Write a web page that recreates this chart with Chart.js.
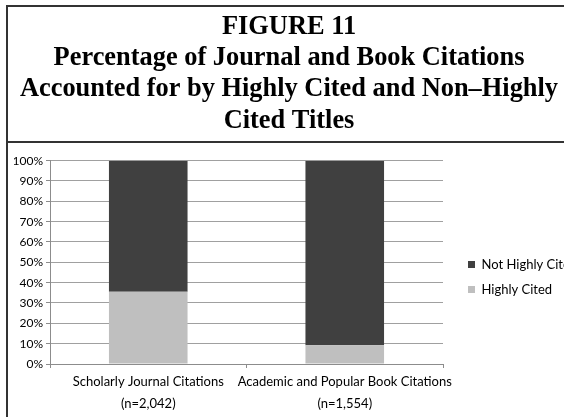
<!DOCTYPE html>
<html>
<head>
<meta charset="utf-8">
<script src="https://cdn.jsdelivr.net/npm/chart.js@4/dist/chart.umd.min.js"></script>
<style>
  html, body { margin: 0; padding: 0; background: #ffffff; }
  #wrap { position: relative; width: 564px; height: 417px; }
</style>
</head>
<body>
<div id="wrap"><canvas id="c" width="564" height="417"></canvas></div>
<script>
const titleLines = [
  'FIGURE 11',
  'Percentage of Journal and Book Citations',
  'Accounted for by Highly Cited and Non\u2013Highly',
  'Cited Titles'
];
const categories = [
  ['Scholarly Journal Citations', '(n=2,042)'],
  ['Academic and Popular Book Citations', '(n=1,554)']
];
const seriesNames = ['Highly Cited', 'Not Highly Cited'];
const highlyCited = [35.5, 9.2];
const notHighlyCited = [64.5, 90.8];
const yTicks = [0, 10, 20, 30, 40, 50, 60, 70, 80, 90, 100];

const axisFont = { family: 'Lato, "Open Sans", sans-serif', size: 13 };

const framePlugin = {
  id: 'frame',
  afterDraw(chart) {
    const ctx = chart.ctx;
    ctx.save();
    ctx.strokeStyle = '#333333';
    ctx.lineWidth = 2;
    ctx.beginPath();
    ctx.moveTo(7, 417); ctx.lineTo(7, 6); ctx.lineTo(564, 6);
    ctx.moveTo(7, 142); ctx.lineTo(564, 142);
    ctx.stroke();
    ctx.restore();
  }
};

new Chart(document.getElementById('c'), {
  type: 'bar',
  data: {
    labels: categories,
    datasets: [
      { label: seriesNames[0], data: highlyCited, backgroundColor: '#bfbfbf', barPercentage: 0.4, categoryPercentage: 1 },
      { label: seriesNames[1], data: notHighlyCited, backgroundColor: '#404040', barPercentage: 0.4, categoryPercentage: 1 }
    ]
  },
  plugins: [framePlugin],
  options: {
    responsive: false,
    animation: false,
    devicePixelRatio: 1,
    layout: { padding: { left: 14, right: 0, top: 0, bottom: 0 } },
    plugins: {
      title: {
        display: true,
        text: titleLines,
        color: '#000000',
        font: { family: '"Liberation Serif", "Times New Roman", serif', size: 26.4, weight: 'bold', lineHeight: 1.19 },
        padding: { top: 11, bottom: 24 }
      },
      legend: {
        display: true,
        position: 'right',
        fullSize: false,
        reverse: true,
        maxWidth: 108,
        title: { display: true, text: '', font: { size: 1 }, padding: { top: 28, bottom: 0 } },
        labels: {
          boxWidth: 7,
          boxHeight: 7,
          padding: 12,
          color: '#000000',
          font: axisFont
        }
      },
      tooltip: { enabled: false }
    },
    scales: {
      x: {
        stacked: true,
        grid: { display: true, drawOnChartArea: false, drawTicks: true, tickLength: 4, offset: true, color: '#8c8c8c' },
        border: { display: true, color: '#8c8c8c', width: 1 },
        ticks: { color: '#000000', font: { ...axisFont, lineHeight: 1.7 }, padding: 3, maxRotation: 0, autoSkip: false },
        afterFit: s => { s.height = 53; }
      },
      y: {
        stacked: true,
        min: 0,
        max: 100,
        afterBuildTicks: s => { s.ticks = yTicks.map(v => ({ value: v })); },
        grid: { color: '#a0a0a0', tickLength: 4, drawTicks: true, tickColor: '#8c8c8c' },
        border: { display: true, color: '#8c8c8c', width: 1 },
        ticks: { color: '#000000', font: { ...axisFont, size: 12 }, padding: 3, callback: v => v + '%' },
        afterFit: s => { s.width = 36; }
      },
      spacer: {
        type: 'linear',
        position: 'right',
        display: true,
        grid: { display: false },
        border: { display: false },
        ticks: { display: false },
        afterFit: s => { s.width = 13; }
      }
    }
  }
});
</script>
</body>
</html>
